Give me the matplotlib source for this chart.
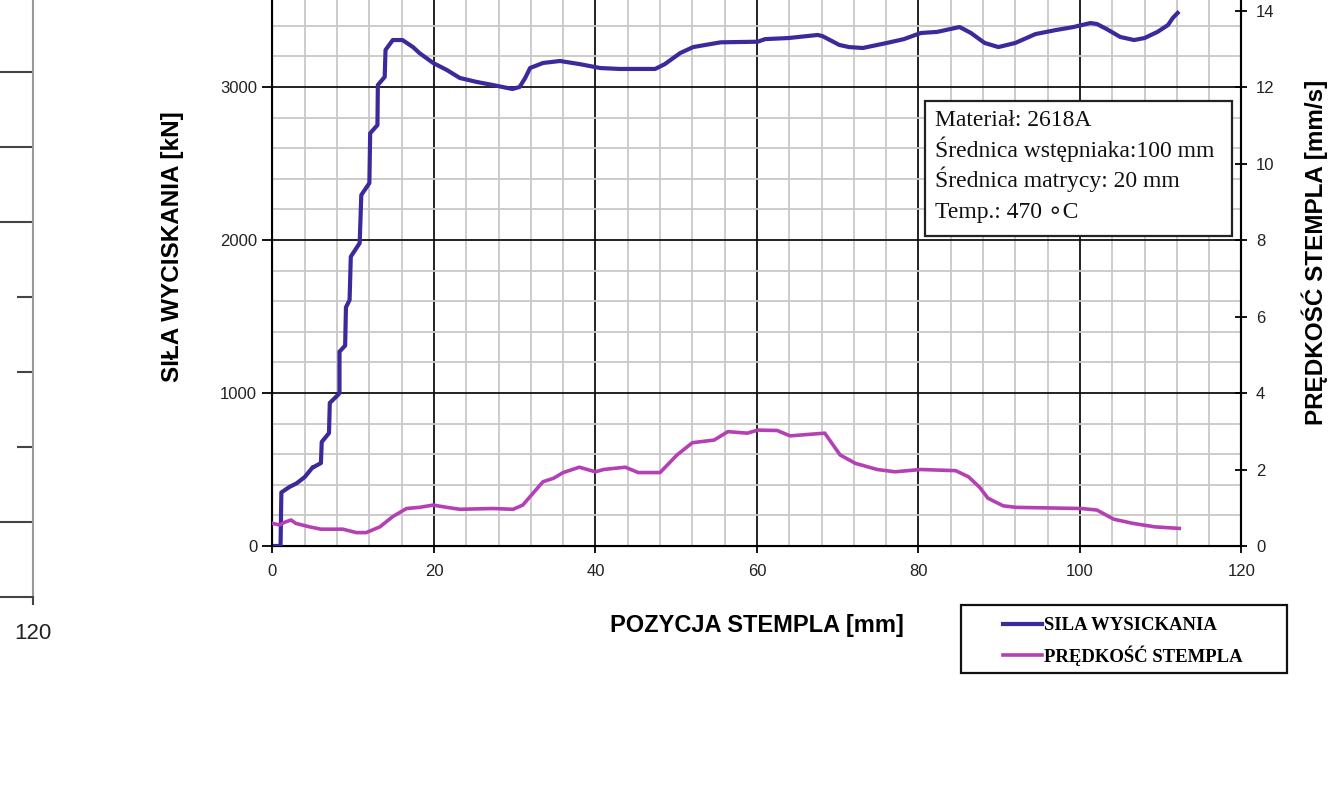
import matplotlib

matplotlib.use("Agg")
import matplotlib.pyplot as plt
from matplotlib.patches import Rectangle
from matplotlib.ticker import MultipleLocator

plt.rcParams["font.family"] = ["Liberation Sans", "DejaVu Sans"]

BLUE = "#3b2a9c"
MAGENTA = "#b440b4"
INK = "#222222"
SERIF = ["Liberation Serif", "DejaVu Sans"]
W, H = 1335, 789

# punch position [mm] vs extrusion force [kN]
pos_force = [0, 1.0, 1.1, 2.1, 3.0, 4.0, 5.0, 5.1, 6.0, 6.1, 7.0, 7.1, 8.1, 8.3,
             8.3, 9.0, 9.1, 9.55, 9.7, 10.8, 11.0, 12.0, 12.1, 13.0, 13.05, 13.9,
             14.0, 14.9, 16.1, 17.4, 18.2, 19.9, 21.6, 23.2, 25.3, 27.3, 29.7,
             30.6, 31.3, 31.9, 33.5, 35.6, 38.0, 40.6, 43.0, 47.4, 48.6, 50.5,
             52.1, 55.5, 60.1, 61.0, 63.9, 67.5, 68.1, 70.2, 71.4, 73.1, 76.1,
             78.2, 80.3, 82.3, 85.1, 86.5, 88.2, 89.9, 92.0, 94.5, 97.0, 99.2,
             101.3, 102.1, 103.3, 105.0, 106.7, 108.0, 109.6, 110.9, 111.5, 112.1]
force = [0, 0, 350, 386, 410, 451, 516, 516, 542, 680, 738, 935, 987, 1000,
         1270, 1310, 1560, 1608, 1891, 1980, 2294, 2372, 2698, 2751, 3013, 3066,
         3242, 3307, 3307, 3261, 3222, 3157, 3111, 3059, 3033, 3013, 2987,
         3000, 3059, 3124, 3157, 3170, 3150, 3124, 3118, 3118, 3150, 3222,
         3261, 3292, 3296, 3313, 3320, 3340, 3333, 3275, 3261, 3255, 3288,
         3313, 3353, 3360, 3392, 3353, 3288, 3261, 3288, 3346, 3372, 3392,
         3418, 3412, 3379, 3327, 3307, 3320, 3360, 3405, 3451, 3484]

# punch position [mm] vs punch speed [mm/s]
pos_speed = [0, 0.9, 1.5, 2.3, 2.9, 4.6, 6.0, 8.7, 10.4, 11.6, 13.3, 14.9, 16.6,
             18.2, 19.9, 21.6, 23.2, 27.3, 29.8, 31.0, 31.9, 33.5, 34.8, 36.0,
             38.0, 40.0, 41.0, 43.7, 45.3, 48.0, 50.1, 52.0, 54.7, 56.4, 58.8,
             60.1, 62.5, 64.1, 68.4, 70.3, 72.2, 74.9, 77.1, 80.3, 84.6, 86.2,
             87.6, 88.6, 90.5, 92.1, 100.2, 102.1, 104.2, 106.6, 109.3, 112.3]
speed = [0.59, 0.55, 0.62, 0.68, 0.59, 0.50, 0.44, 0.44, 0.35, 0.35, 0.50, 0.77,
         0.98, 1.01, 1.07, 1.01, 0.96, 0.98, 0.96, 1.07, 1.29, 1.68, 1.77, 1.92,
         2.06, 1.94, 2.00, 2.06, 1.92, 1.92, 2.38, 2.70, 2.77, 2.99, 2.95,
         3.03, 3.02, 2.88, 2.95, 2.38, 2.16, 2.00, 1.94, 2.00, 1.97, 1.81,
         1.53, 1.25, 1.05, 1.01, 0.98, 0.94, 0.70, 0.59, 0.50, 0.46]

info_lines = ["Materiał: 2618A",
              "Średnica wstępniaka:100 mm",
              "Średnica matrycy: 20 mm",
              "Temp.: 470 \u2218C"]

# neighbouring panel edge on the left
edge_grid = [1, 5, 6, 7]
edge_ticks = [2, 3, 4]

fig = plt.figure(figsize=(W / 100, H / 100), dpi=100)

# --- leftover edge of the neighbouring panel ---
ax0 = fig.add_axes([-0.2, 0.2433, 0.2247, 0.7604])
ax0.set_xlim(100, 120)
ax0.set_ylim(0, 8)
for s in ("top", "left"):
    ax0.spines[s].set_visible(False)
ax0.spines["right"].set_color("#9a9a9a")
ax0.spines["right"].set_linewidth(1.5)
ax0.spines["bottom"].set_color("#444444")
ax0.spines["bottom"].set_linewidth(1.5)
ax0.set_xticks([120])
ax0.set_xticklabels(["120"], fontsize=16, color=INK)
ax0.tick_params(axis="x", direction="out", length=6, width=1.5, color="#444444", pad=13)
ax0.yaxis.tick_right()
ax0.set_yticks(edge_ticks)
ax0.set_yticklabels([])
ax0.tick_params(axis="y", direction="in", length=11.5, width=1.5, color="#444444")
for g in edge_grid:
    ax0.axhline(g, color="#444444", lw=1.5)

# --- main chart ---
ax = fig.add_axes([0.2041, 0.30798, 0.7258, 0.6981])
ax.set_xlim(0, 120)
ax.set_ylim(0, 3600)
ax.xaxis.set_major_locator(MultipleLocator(20))
ax.xaxis.set_minor_locator(MultipleLocator(4))
ax.set_yticks([0, 1000, 2000, 3000])
ax.yaxis.set_minor_locator(MultipleLocator(200))
ax.set_axisbelow(True)
ax.grid(which="minor", color="#c8c8c8", lw=1.3)
ax.grid(which="major", color="#111111", lw=1.3)
ax.spines["top"].set_visible(False)
for s in ("left", "bottom", "right"):
    ax.spines[s].set_linewidth(1.5)
ax.tick_params(which="minor", length=0)
ax.tick_params(axis="y", direction="out", length=7, width=1.3, labelsize=12,
               labelcolor=INK, pad=4)
ax.tick_params(axis="x", direction="out", length=5, width=1.3, labelsize=12,
               labelcolor=INK, pad=8)

l1, = ax.plot(pos_force, force, color=BLUE, lw=3.0, solid_joinstyle="round",
              label="SILA WYSICKANIA", zorder=3)

ax2 = ax.twinx()
ax2.set_ylim(0, 14.4)
ax2.set_yticks(range(0, 15, 2))
ax2.spines["top"].set_visible(False)
ax2.spines["right"].set_linewidth(1.5)
ax2.tick_params(axis="y", direction="inout", length=9, width=1.3, labelsize=12,
                labelcolor=INK, pad=6)
l2, = ax2.plot(pos_speed, speed, color=MAGENTA, lw=2.6, solid_joinstyle="round",
               label="PRĘDKOŚĆ STEMPLA", zorder=3)

ax.set_xlabel("POZYCJA STEMPLA [mm]", fontsize=17, fontweight="bold")
ax.xaxis.set_label_coords(0.5005, -0.123)
ax.set_ylabel("SIŁA WYCISKANIA [kN]", fontsize=17.5, fontweight="bold")
ax.yaxis.set_label_coords(-0.091, 0.543)
ax2.set_ylabel("PRĘDKOŚĆ STEMPLA [mm/s]", fontsize=17.5, fontweight="bold")
ax2.yaxis.set_label_coords(1.062, 0.534)

# material / process info box: frame plus evenly spaced lines
fig.patches.append(Rectangle((925 / W, 1 - 236 / H), 307 / W, 135 / H,
                             transform=fig.transFigure, fc="white",
                             ec="#222222", lw=1.6, zorder=5))
for i, line in enumerate(info_lines):
    fig.text(935 / W, 1 - (126 + 30.7 * i) / H, line, ha="left", va="baseline",
             fontsize=17, family=SERIF, color="#111111", zorder=6)

# legend below the plot, in its own frame
fig.patches.append(Rectangle((961 / W, 1 - 673 / H), 326 / W, 68 / H,
                             transform=fig.transFigure, fill=False,
                             ec="#111111", lw=1.6))
fig.legend(handles=[l1, l2], loc="upper left",
           bbox_to_anchor=(1003 / W, 1 - 617 / H), frameon=False,
           borderpad=0, borderaxespad=0, handlelength=2.1, handletextpad=0.1,
           labelspacing=0.6, prop=dict(family="Liberation Serif",
                                       weight="bold", size=13.5))

fig.savefig("out.png", dpi=100)
